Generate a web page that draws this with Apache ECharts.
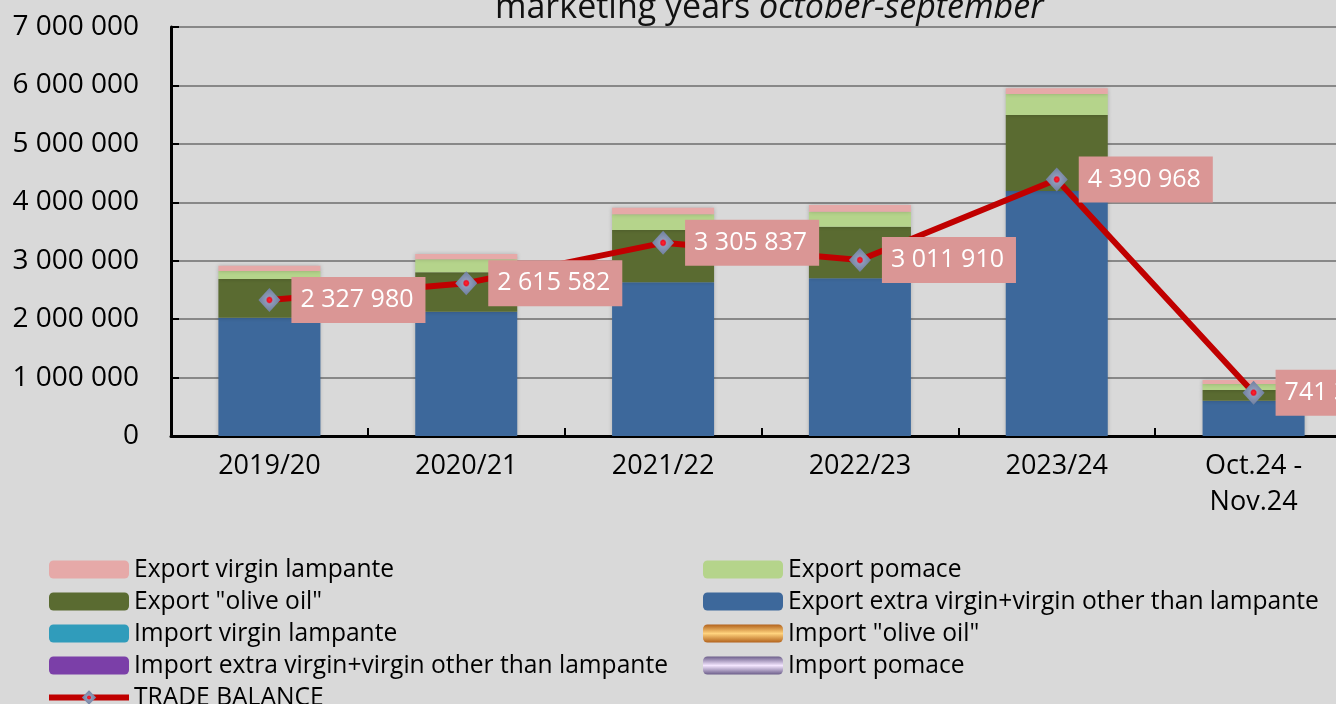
<!DOCTYPE html>
<html>
<head>
<meta charset="utf-8">
<script src="https://cdn.jsdelivr.net/npm/echarts@6/dist/echarts.min.js"></script>
<style>
  html, body { margin: 0; padding: 0; background: #d9d9d9; }
  #chart { width: 1336px; height: 704px; }
</style>
</head>
<body>
<div id="chart"></div>
<script>
// marketing years (october-september)
const years = ['2019/20', '2020/21', '2021/22', '2022/23', '2023/24', 'Oct.24 -\nNov.24'];

// exports
const expExtraVirgin = [2025000, 2127000, 2630000, 2699000, 4193000, 604000];
const expOliveOil    = [662000, 675000, 896000, 883000, 1301000, 183000];
const expPomace      = [137000, 222000, 268000, 257000, 359000, 103000];
const expLampante    = [91000, 91000, 113000, 114000, 98000, 68000];

// imports sit below zero, so nothing of them shows on this axis
const impLampante = [];
const impOliveOil = [];
const impExtraVirgin = [];
const impPomace = [];

// trade balance, from the data labels
const tradeBalance = [2327980, 2615582, 3305837, 3011910, 4390968, 741371];

const yTicks = [0, 1000000, 2000000, 3000000, 4000000, 5000000, 6000000, 7000000];

const FONT = 'Open Sans';
const spaced = v => String(Math.round(v)).replace(/\B(?=(\d{3})+(?!\d))/g, ' ');

const chart = echarts.init(document.getElementById('chart'));

function barSeries(name, data, color) {
  return {
    name: name,
    type: 'bar',
    stack: 'trade',
    data: data,
    barWidth: 102,
    itemStyle: { color: color, shadowBlur: 4, shadowColor: 'rgba(0,0,0,0.2)' },
    emphasis: { disabled: true }
  };
}

const vGrad = (a, b) => ({
  type: 'linear', x: 0, y: 0, x2: 0, y2: 1,
  colorStops: [{ offset: 0, color: a }, { offset: 0.5, color: b }, { offset: 1, color: a }]
});

const legendBase = {
  orient: 'vertical',
  top: 557,
  height: 200,
  padding: 0,
  itemWidth: 80,
  itemHeight: 18,
  itemGap: 7,
  textStyle: { fontFamily: FONT, fontSize: 24.6, lineHeight: 22, color: '#000' }
};

chart.setOption({
  backgroundColor: '#d9d9d9',
  animation: false,
  textStyle: { fontFamily: FONT },
  title: {
    left: 490,
    top: -14,
    text: '{a|marketing years }{b|october-september}',
    textStyle: {
      fontWeight: 'normal',
      rich: {
        a: { fontFamily: FONT, fontSize: 34, fontWeight: 'normal', color: '#111' },
        b: { fontFamily: FONT, fontSize: 34, fontWeight: 'normal', color: '#111', fontStyle: 'italic' }
      }
    }
  },
  grid: { left: 171, top: 27, width: 1181, height: 409, outerBoundsMode: 'none' },
  legend: [
    Object.assign({}, legendBase, {
      left: 46,
      data: ['Export virgin lampante', 'Export "olive oil"', 'Import virgin lampante',
             'Import extra virgin+virgin other than lampante',
             { name: 'TRADE BALANCE', lineStyle: { color: '#c00000', width: 6 } }]
    }),
    Object.assign({}, legendBase, {
      left: 703,
      data: ['Export pomace', 'Export extra virgin+virgin other than lampante',
             'Import "olive oil"', 'Import pomace']
    })
  ],
  xAxis: {
    type: 'category',
    data: years,
    axisLine: { lineStyle: { color: '#000', width: 3 } },
    axisTick: { show: true, inside: true, length: 8, lineStyle: { color: '#000', width: 2 } },
    axisLabel: { fontFamily: FONT, fontSize: 27, lineHeight: 36, color: '#000', margin: 12 }
  },
  yAxis: {
    type: 'value',
    min: yTicks[0],
    max: yTicks[yTicks.length - 1],
    interval: yTicks[1] - yTicks[0],
    axisLine: { show: true, lineStyle: { color: '#000', width: 3 } },
    axisTick: { show: true, inside: true, length: 8, lineStyle: { color: '#000', width: 2 } },
    splitLine: { lineStyle: { color: '#888', width: 2 } },
    axisLabel: { fontFamily: FONT, fontSize: 28, color: '#000', margin: 32, formatter: spaced }
  },
  series: [
    barSeries('Export extra virgin+virgin other than lampante', expExtraVirgin, '#3d689b'),
    barSeries('Export "olive oil"', expOliveOil, '#5a6b31'),
    barSeries('Export pomace', expPomace, '#b5d48b'),
    barSeries('Export virgin lampante', expLampante, '#e6a9a8'),
    barSeries('Import virgin lampante', impLampante, '#309cbb'),
    barSeries('Import "olive oil"', impOliveOil, vGrad('#b2621c', '#ffd37e')),
    barSeries('Import extra virgin+virgin other than lampante', impExtraVirgin, '#7b3fa8'),
    barSeries('Import pomace', impPomace, vGrad('#6c5e8a', '#f4e6ff')),
    {
      name: 'TRADE BALANCE',
      type: 'line',
      data: tradeBalance,
      z: 5,
      symbol: 'diamond',
      symbolSize: [22, 24],
      lineStyle: { color: '#c00000', width: 6 },
      itemStyle: {
        color: {
          type: 'radial', x: 0.5, y: 0.5, r: 0.5,
          colorStops: [
            { offset: 0, color: '#ff2a2a' },
            { offset: 0.2, color: '#ec1028' },
            { offset: 0.32, color: '#8e9ab8' },
            { offset: 1, color: '#6f7f9f' }
          ]
        }
      },
      emphasis: { disabled: true },
      label: {
        show: true,
        position: 'right',
        distance: 11,
        formatter: p => spaced(p.value),
        fontFamily: FONT,
        fontSize: 25,
        lineHeight: 26,
        color: '#fff',
        backgroundColor: '#da9695',
        padding: [10, 12, 10, 9]
      }
    }
  ]
});
</script>
</body>
</html>
